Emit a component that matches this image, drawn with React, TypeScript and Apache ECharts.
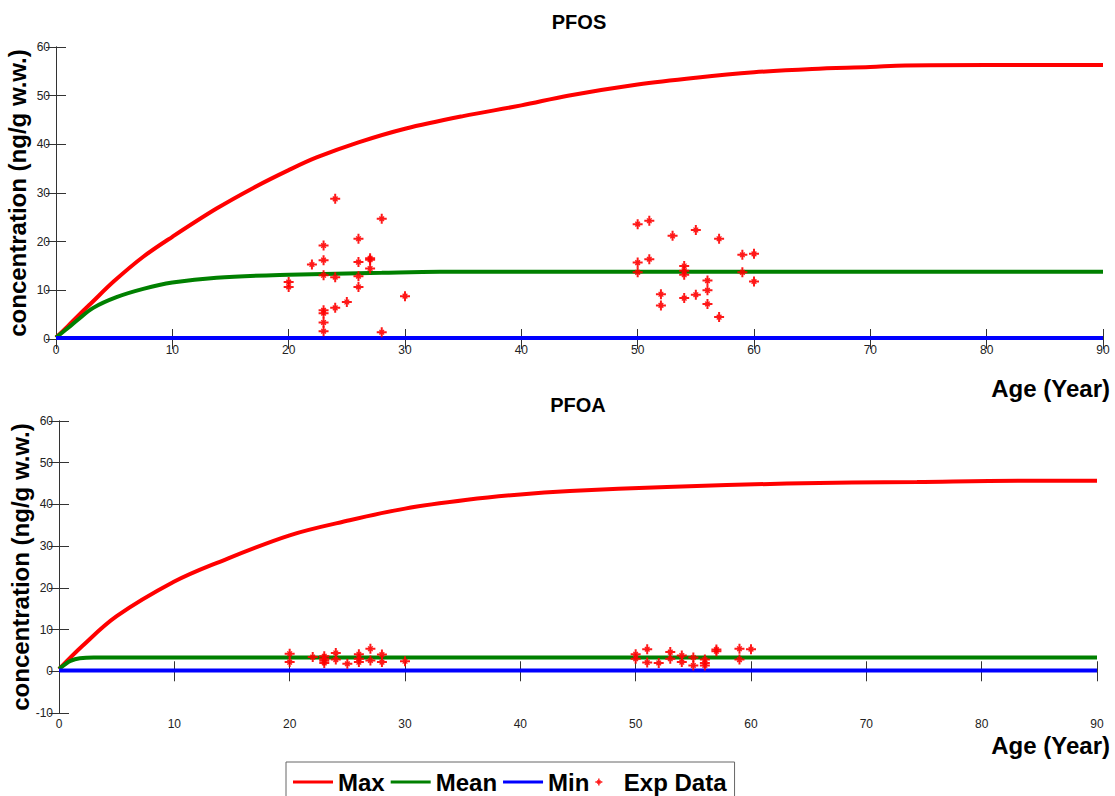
import React, { useEffect, useRef } from "react";
import * as echarts from "echarts";

// ---------- data ----------
const pfosAges = [24, 28, 26, 23, 22, 23, 26, 27, 27, 27, 23, 24, 26, 26, 20, 20, 30, 25, 24, 23, 23, 23, 23, 28,
  50, 51, 53, 55, 57, 59, 60, 50, 51, 50, 54, 54, 54, 59, 56, 60, 56, 52, 55, 54, 52, 56, 57];
const pfosConc = [28.8, 24.7, 20.6, 19.2, 15.3, 16.2, 15.8, 16.3, 16.6, 14.5, 13.1, 12.7, 12.9, 10.7, 11.7, 10.7, 8.8, 7.6, 6.4, 5.9, 5.3, 3.4, 1.6, 1.4,
  23.6, 24.3, 21.2, 22.4, 20.6, 17.3, 17.5, 15.7, 16.4, 13.7, 15.0, 14.0, 13.2, 13.7, 12.0, 11.8, 10.0, 9.2, 9.1, 8.4, 6.9, 7.2, 4.5];

const pfoaAges = [20, 20, 22, 23, 23, 23, 23, 24, 24, 25, 26, 26, 26, 27, 27, 28, 28, 30,
  50, 50, 51, 51, 52, 53, 53, 54, 54, 55, 55, 56, 56, 56, 57, 57, 59, 59, 60];
const pfoaConc = [4.2, 2.2, 3.4, 3.6, 3.0, 2.5, 2.0, 4.4, 2.8, 1.8, 4.1, 3.0, 2.2, 5.4, 2.6, 4.0, 2.2, 2.4,
  4.1, 3.0, 5.3, 2.1, 2.0, 4.6, 3.0, 3.8, 2.2, 3.3, 1.4, 2.8, 2.0, 1.4, 5.2, 4.8, 5.4, 2.8, 5.3];

const pfosMaxAge = [0, 1, 2, 3, 5, 7.5, 10, 13.8, 17, 20, 22.4, 26, 30, 35, 40, 44, 50, 55, 60, 65, 70, 73, 80, 90];
const pfosMaxConc = [0.3, 2.6, 5.0, 7.3, 11.9, 16.9, 21.0, 26.8, 31.1, 34.7, 37.3, 40.4, 43.2, 45.8, 48.0, 50.0, 52.3, 53.7, 54.8, 55.5, 55.9, 56.2, 56.3, 56.3];
const pfosMeanAge = [0, 1, 1.8, 3.2, 5.2, 7.5, 10, 13.8, 20, 28, 33, 90];
const pfosMeanConc = [0.3, 2.2, 3.8, 6.4, 8.6, 10.3, 11.6, 12.6, 13.2, 13.6, 13.8, 13.8];

const pfoaMaxAge = [0, 2, 5, 10, 13.7, 20, 25.2, 30, 35.4, 40, 44.3, 52.7, 63.1, 74.4, 84.8, 90];
const pfoaMaxConc = [0.5, 6.0, 13.2, 21.5, 26.0, 32.6, 36.2, 39.0, 41.1, 42.4, 43.2, 44.2, 45.0, 45.4, 45.7, 45.7];
const pfoaMeanAge = [0, 0.5, 1, 1.8, 3, 90];
const pfoaMeanConc = [0.6, 1.6, 2.5, 3.1, 3.3, 3.3];

const minAge = [0, 90];
const minConc = [0.2, 0.2];

const titles = ["PFOS", "PFOA"];
const seriesNames = ["Max", "Mean", "Min", "Exp Data"];
const yAxisName = "concentration (ng/g w.w.)";
const xAxisName = "Age (Year)";

// ---------- styling ----------
const FONT = "'Liberation Sans', Arial, Helvetica, sans-serif";
const RED = "#ff0000";
const GREEN = "#008000";
const BLUE = "#0000ff";
const AXIS = "#333333";
const STAR =
  "path://M4 0h2v4h4v2H6v4H4V6H0V4h4z M2.2 3.1l0.9-0.9 4.7 4.7-0.9 0.9z M6.9 2.2l0.9 0.9-4.7 4.7-0.9-0.9z";
const LINE_ICON = "path://M0 0h40v3H0z";

const zip = (a: number[], b: number[]) => a.map((v, i) => [v, b[i]]);

export default function App() {
  const ref = useRef<HTMLDivElement>(null);

  useEffect(() => {
    if (!ref.current) return;
    const chart = echarts.init(ref.current, undefined, { renderer: "svg" });

    const grids = [
      { left: 56, right: 12, top: 47, height: 292 },
      { left: 59, right: 18, top: 421, height: 292 },
    ];

    const tickStyle = { show: true, inside: true, length: 10, lineStyle: { color: AXIS, width: 1 } };
    const lineAx = { show: true, lineStyle: { color: AXIS, width: 1 } };
    const labelStyle = { color: "#222", fontSize: 12, fontFamily: FONT };

    const xAxes: any[] = [];
    const yAxes: any[] = [];
    [0, 1].forEach((g) => {
      xAxes.push({
        gridIndex: g,
        type: "value",
        position: "bottom",
        min: 0,
        max: 90,
        interval: 10,
        axisLine: lineAx,
        axisTick: tickStyle,
        splitLine: { show: false },
        axisLabel: { ...labelStyle, margin: 5 },
      });
      xAxes.push({
        gridIndex: g,
        type: "value",
        position: "top",
        min: 0,
        max: 90,
        interval: 10,
        axisLine: lineAx,
        axisTick: tickStyle,
        splitLine: { show: false },
        axisLabel: { show: false },
      });
      yAxes.push({
        gridIndex: g,
        type: "value",
        position: "left",
        min: g === 0 ? 0 : -10,
        max: 60,
        interval: 10,
        axisLine: lineAx,
        axisTick: tickStyle,
        splitLine: { show: false },
        axisLabel: { ...labelStyle, margin: 6 },
        name: yAxisName,
        nameLocation: "middle",
        nameGap: 27,
        nameMoveOverlap: false,
        nameTextStyle: { fontFamily: FONT, fontSize: 24, fontWeight: "bold", color: "#000" },
      });
      yAxes.push({
        gridIndex: g,
        type: "value",
        position: "right",
        min: g === 0 ? 0 : -10,
        max: 60,
        interval: 10,
        axisLine: lineAx,
        axisTick: tickStyle,
        splitLine: { show: false },
        axisLabel: { show: false },
      });
    });

    const mkLine = (name: string, color: string, data: number[][], g: number) => ({
      name,
      type: "line",
      xAxisIndex: g * 2,
      yAxisIndex: g * 2,
      data,
      symbol: "none",
      showSymbol: false,
      smooth: 0.35,
      lineStyle: { color, width: 4 },
      itemStyle: { color },
      z: 2,
    });
    const mkScatter = (data: number[][], g: number) => ({
      name: seriesNames[3],
      type: "scatter",
      xAxisIndex: g * 2,
      yAxisIndex: g * 2,
      data,
      symbol: STAR,
      symbolSize: 10,
      itemStyle: { color: RED, opacity: 0.9 },
      z: 5,
    });

    const option: any = {
      animation: false,
      backgroundColor: "#ffffff",
      title: titles.map((t, i) => ({
        text: t,
        left: i === 0 ? 579 : 578,
        top: i === 0 ? 12 : 395,
        textAlign: "center",
        padding: 0,
        textStyle: { fontFamily: FONT, fontSize: 20, fontWeight: "bold", color: "#000" },
      })),
      graphic: [
        {
          type: "text",
          right: 5,
          top: 376,
          style: { text: xAxisName, font: `bold 24px ${FONT}`, fill: "#000" },
        },
        {
          type: "text",
          right: 5,
          top: 733,
          style: { text: xAxisName, font: `bold 24px ${FONT}`, fill: "#000" },
        },
      ],
      grid: grids.map((g) => ({ ...g, outerBoundsMode: "none", containLabel: false })),
      xAxis: xAxes,
      yAxis: yAxes,
      legend: {
        data: [
          { name: seriesNames[0], icon: LINE_ICON },
          { name: seriesNames[1], icon: LINE_ICON },
          { name: seriesNames[2], icon: LINE_ICON },
          { name: seriesNames[3], icon: STAR },
        ],
        left: 286,
        top: 762,
        orient: "horizontal",
        itemWidth: 40,
        itemHeight: 7,
        itemGap: 6,
        padding: [8, 8, 8, 7],
        borderColor: "#666",
        borderWidth: 1,
        textStyle: { fontFamily: FONT, fontSize: 24, fontWeight: "bold", color: "#000" },
      },
      series: [
        mkLine(seriesNames[0], RED, zip(pfosMaxAge, pfosMaxConc), 0),
        mkLine(seriesNames[1], GREEN, zip(pfosMeanAge, pfosMeanConc), 0),
        mkLine(seriesNames[2], BLUE, zip(minAge, minConc), 0),
        mkScatter(zip(pfosAges, pfosConc), 0),
        mkLine(seriesNames[0], RED, zip(pfoaMaxAge, pfoaMaxConc), 1),
        mkLine(seriesNames[1], GREEN, zip(pfoaMeanAge, pfoaMeanConc), 1),
        mkLine(seriesNames[2], BLUE, zip(minAge, minConc), 1),
        mkScatter(zip(pfoaAges, pfoaConc), 1),
      ],
    };

    chart.setOption(option);
    return () => chart.dispose();
  }, []);

  return (
    <div
      ref={ref}
      style={{ position: "absolute", left: 0, top: 0, width: 1115, height: 796, background: "#fff" }}
    />
  );
}
